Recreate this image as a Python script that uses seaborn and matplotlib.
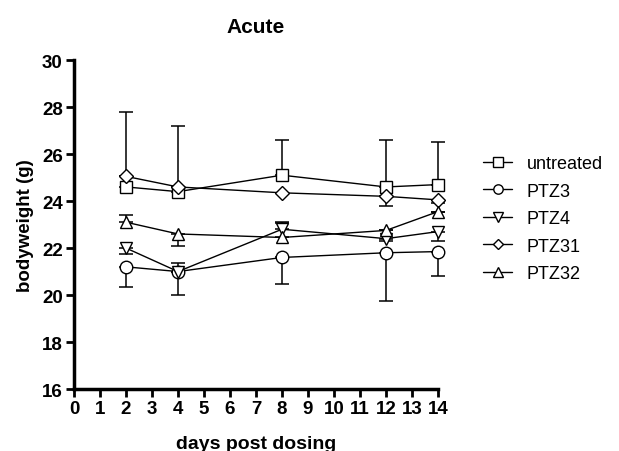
import numpy as np
import pandas as pd
import matplotlib
matplotlib.use("Agg")
import matplotlib.pyplot as plt
import seaborn as sns

# Datos
dias = [2, 4, 8, 12, 14]
grupos = ["untreated", "PTZ3", "PTZ4", "PTZ31", "PTZ32"]

untreated = [24.6, 24.4, 25.1, 24.6, 24.7]
ptz3 = [21.2, 21.0, 21.6, 21.8, 21.85]
ptz4 = [22.0, 21.0, 22.8, 22.4, 22.7]
ptz31 = [25.05, 24.6, 24.35, 24.2, 24.05]
ptz32 = [23.1, 22.6, 22.45, 22.75, 23.55]

# Barras de error (abajo, arriba)
err_untreated = ([0, 0, 0, 0, 0], [3.2, 2.8, 1.5, 2.0, 1.8])
err_ptz3 = ([0.85, 1.0, 1.15, 2.05, 1.05], [0, 0, 0, 0, 0])
err_ptz4 = ([0.25, 0, 0, 0.1, 0.4], [0, 0.35, 0.3, 0, 0])
err_ptz31 = ([0, 0, 0, 0.4, 0.15], [0, 0, 0, 0, 0])
err_ptz32 = ([0, 0.5, 0, 0, 0], [0.3, 0, 0.6, 0, 0])

valores = [untreated, ptz3, ptz4, ptz31, ptz32]
errores = [err_untreated, err_ptz3, err_ptz4, err_ptz31, err_ptz32]
marcadores = {"untreated": "s", "PTZ3": "o", "PTZ4": "v", "PTZ31": "D", "PTZ32": "^"}
tamanos = {"untreated": 9, "PTZ3": 9, "PTZ4": 9, "PTZ31": 7, "PTZ32": 9}

df = pd.DataFrame({
    "dia": dias * len(grupos),
    "peso": sum(valores, []),
    "grupo": [g for g in grupos for _ in dias],
})

sns.set_style("ticks")
plt.rcParams["font.family"] = ["Liberation Sans", "DejaVu Sans"]
plt.rcParams.update({"text.color": "black", "axes.labelcolor": "black",
                     "xtick.color": "black", "ytick.color": "black",
                     "axes.edgecolor": "black"})

fig = plt.figure(figsize=(6.19, 4.52), dpi=100)
ax = fig.add_axes([0.1195, 0.137, 0.5881, 0.728])

# Barras de error primero, debajo de los marcadores
for g, v, e in zip(grupos, valores, errores):
    eb = ax.errorbar(dias, v, yerr=[e[0], e[1]], fmt="none", ecolor="black",
                     elinewidth=1.1, capsize=5, capthick=1.1, zorder=1)
    for art in eb.lines[1] + eb.lines[2]:
        art.set_clip_on(False)

for g in grupos:
    sub = df[df["grupo"] == g]
    sns.lineplot(data=sub, x="dia", y="peso", ax=ax, color="black",
                 marker=marcadores[g], markersize=tamanos[g],
                 markerfacecolor="white", markeredgecolor="black",
                 markeredgewidth=1.0, linewidth=1.0, label=g, zorder=3,
                 clip_on=False)

ax.set_xlim(0, 14)
ax.set_ylim(16, 30)
ax.set_xticks(range(0, 15))
ax.set_yticks(range(16, 31, 2))
for lado in ["top", "right"]:
    ax.spines[lado].set_visible(False)
for lado in ["left", "bottom"]:
    ax.spines[lado].set_linewidth(2.5)
ax.tick_params(direction="out", length=6, width=2, labelsize=13.5, pad=2)
for t in ax.get_xticklabels() + ax.get_yticklabels():
    t.set_fontweight("bold")

ax.set_title("Acute", fontsize=15, fontweight="bold", pad=20)
ax.set_xlabel("days post dosing", fontsize=14, fontweight="bold", labelpad=13)
ax.set_ylabel("bodyweight (g)", fontsize=13.5, fontweight="bold", labelpad=6)
ax.margins(0)

ax.legend(loc="upper left", bbox_to_anchor=(1.08, 0.76), frameon=False,
          fontsize=13, handlelength=1.6, labelspacing=0.58, handletextpad=0.8,
          markerscale=0.75)

fig.savefig("out.png", dpi=100)
